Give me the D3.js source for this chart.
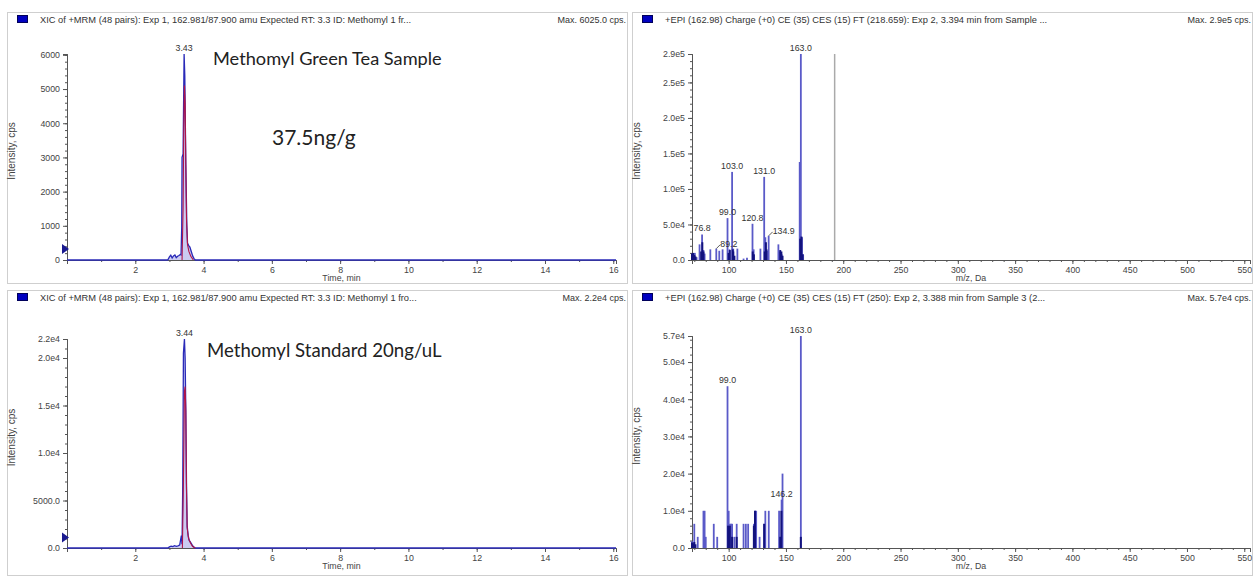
<!DOCTYPE html>
<html>
<head>
<meta charset="utf-8">
<script src="https://cdn.jsdelivr.net/npm/d3@7"></script>
<style>
  body { margin: 0; background: #fff; }
</style>
</head>
<body>
<svg id="chart"></svg>
<script>
var svgWidth = 1257;
var svgHeight = 576;

// XIC traces, time in min / intensity in cps
var sampleTime = [0, 2.95, 3.0, 3.04, 3.08, 3.12, 3.16, 3.2, 3.24, 3.28, 3.32, 3.34, 3.36, 3.37, 3.40, 3.43, 3.45, 3.48, 3.51, 3.53, 3.56, 3.60, 3.64, 3.68, 3.72, 3.76, 16.08];
var sampleBlue = [0, 0, 90, 140, 60, 120, 150, 70, 110, 130, 160, 150, 950, 3000, 3100, 6025, 5400, 2800, 1000, 500, 430, 380, 250, 120, 40, 0, 0];
var sampleRedTime = [3.37, 3.40, 3.42, 3.44, 3.46, 3.48, 3.50, 3.53, 3.57, 3.63, 3.7];
var sampleRed = [0, 1500, 3800, 5100, 4600, 2800, 1200, 450, 250, 100, 0];

var stdTime = [0, 2.95, 3.0, 3.05, 3.1, 3.15, 3.2, 3.25, 3.3, 3.33, 3.35, 3.37, 3.39, 3.41, 3.44, 3.46, 3.48, 3.50, 3.52, 3.55, 3.58, 3.62, 3.66, 3.70, 3.75, 16.08];
var stdBlue = [0, 0, 120, 200, 150, 250, 180, 220, 300, 900, 1300, 400, 6500, 20500, 22000, 20000, 14500, 6800, 2300, 1300, 800, 600, 350, 150, 0, 0];
var stdRedTime = [3.38, 3.41, 3.44, 3.46, 3.48, 3.50, 3.52, 3.56, 3.62, 3.68, 3.76];
var stdRed = [0, 7000, 16500, 17000, 14500, 6200, 2100, 1000, 500, 150, 0];

// EPI spectra, m/z / intensity in cps
var sampleMz = [68.5, 69.5, 70.5, 72, 74.6, 76.8, 78, 79, 84, 89.2, 91.8, 94.7, 99.0, 100.7, 103.0, 104, 107.6, 113, 116, 120.8, 121.8, 127.7, 131.0, 132, 133.4, 134.9, 143.4, 144.8, 146.3, 162, 163.0, 164, 165];
var sampleInt = [8000, 6000, 10000, 4000, 22000, 36000, 14000, 9000, 15000, 16000, 13000, 15000, 59000, 15000, 124000, 16000, 16000, 2000, 3000, 51000, 15000, 16000, 117000, 32000, 13000, 34000, 22000, 12000, 8000, 138000, 290000, 32000, 8000];
var sampleDarkMz = [68, 69, 70, 71, 76, 77, 78, 100, 101, 103.5, 104, 105, 121, 122, 131.5, 132.5, 133, 145, 146, 147, 162.5, 163.5, 164.5];
var sampleDarkInt = [9000, 10000, 7000, 5000, 12000, 25000, 12000, 10000, 14000, 15000, 12000, 6000, 12000, 8000, 12000, 25000, 15000, 14000, 12000, 6000, 30000, 33000, 8000];

var stdMz = [68, 69, 70, 73, 78, 79, 80, 87, 90, 99.0, 100, 101, 102, 103, 105, 107, 113, 115, 117, 122, 123, 124, 127, 131, 132, 135, 144, 145, 146.2, 147, 163.0];
var stdInt = [1800, 1500, 6500, 3000, 10000, 10000, 3000, 6500, 3000, 43500, 10000, 6500, 6500, 6500, 3000, 6500, 6500, 6500, 6500, 6500, 10000, 10000, 3000, 6500, 10000, 10000, 10000, 3000, 13000, 20000, 57000];
var stdDarkMz = [68, 69, 70, 71, 99.5, 101, 103, 107, 122, 123, 131, 145, 146, 163];
var stdDarkInt = [1500, 1200, 1600, 1000, 6000, 6000, 3000, 3000, 6000, 10000, 6500, 3000, 10000, 3000];

// precursor marker in the sample spectrum
var precursorMz = [192.5];

// peak labels
var sampleXicLabel = [3.43];
var stdXicLabel = [3.44];
var sampleLabelMz = [163.0, 103.0, 131.0, 99.0, 120.8, 76.8, 89.2, 134.9];
var stdLabelMz = [163.0, 99.0, 146.2];
var leaderLabels = [89.2, 134.9];

// axis ticks
var timeTicks = [2, 4, 6, 8, 10, 12, 14, 16];
var mzTicks = [100, 150, 200, 250, 300, 350, 400, 450, 500, 550];
var sampleXicTicks = [0, 1000, 2000, 3000, 4000, 5000, 6000];
var sampleXicTickLabels = ["0", "1000", "2000", "3000", "4000", "5000", "6000"];
var stdXicTicks = [0, 5000, 10000, 15000, 20000, 22000];
var stdXicTickLabels = ["0.0", "5000.0", "1.0e4", "1.5e4", "2.0e4", "2.2e4"];
var sampleMsTicks = [0, 50000, 100000, 150000, 200000, 250000, 290000];
var sampleMsTickLabels = ["0.0", "5.0e4", "1.0e5", "1.5e5", "2.0e5", "2.5e5", "2.9e5"];
var stdMsTicks = [0, 10000, 20000, 30000, 40000, 50000, 57000];
var stdMsTickLabels = ["0.0", "1.0e4", "2.0e4", "3.0e4", "4.0e4", "5.0e4", "5.7e4"];

var svg = d3.select("#chart")
  .attr("width", svgWidth)
  .attr("height", svgHeight)
  .style("font-family", "'Liberation Sans', Arial, sans-serif");

var blue = "#2a2ab8";
var red = "#b01448";

function drawFrame(x0, y0, x1, y1, header, maxText) {
  var g = svg.append("g");
  g.append("rect")
    .attr("x", x0 + 0.5).attr("y", y0 + 0.5)
    .attr("width", x1 - x0).attr("height", y1 - y0)
    .attr("fill", "#fff").attr("stroke", "#cfcfcf");
  g.append("rect")
    .attr("x", x0 + 10.5).attr("y", y0 + 3.5)
    .attr("width", 10).attr("height", 7)
    .attr("fill", "#0000c0").attr("stroke", "#00005a");
  g.append("text")
    .attr("x", x0 + 33).attr("y", y0 + 11)
    .attr("font-size", "9.3px").attr("fill", "#333")
    .text(header);
  g.append("text")
    .attr("x", x1 - 1).attr("y", y0 + 11)
    .attr("text-anchor", "end")
    .attr("font-size", "9px").attr("fill", "#333")
    .text(maxText);
}

function drawAxes(x, y, xTicks, xMinorStep, yTicks, yLabels, yMinorStep, xTitle, titleX) {
  var g = svg.append("g").attr("class", "axes");
  var y0 = y.range()[0];
  var x0 = x.range()[0];

  var minorX = d3.range(Math.ceil(x.domain()[0] / xMinorStep) * xMinorStep, x.domain()[1], xMinorStep);
  g.append("g")
    .attr("transform", `translate(0, ${y0})`)
    .call(d3.axisBottom(x).tickValues(minorX).tickSize(2).tickFormat(""));
  g.append("g")
    .attr("transform", `translate(0, ${y0})`)
    .call(d3.axisBottom(x).tickValues(xTicks).tickSize(4).tickPadding(3));

  var minorY = d3.range(0, y.domain()[1], yMinorStep);
  g.append("g")
    .attr("transform", `translate(${x0}, 0)`)
    .call(d3.axisLeft(y).tickValues(minorY).tickSize(2).tickFormat(""));
  g.append("g")
    .attr("transform", `translate(${x0}, 0)`)
    .call(d3.axisLeft(y).tickValues(yTicks).tickSize(4).tickPadding(3)
      .tickFormat(function(d, i) { return yLabels[i]; }));

  g.selectAll(".domain").attr("stroke", "#555");
  g.selectAll(".tick line").attr("stroke", "#555");
  g.selectAll(".tick text").attr("fill", "#444").attr("font-size", "8.8px")
    .attr("font-family", null);

  g.append("text")
    .attr("x", (x.range()[0] + x.range()[1]) / 2)
    .attr("y", y0 + 21)
    .attr("text-anchor", "middle")
    .attr("font-size", "8.8px").attr("fill", "#444")
    .text(xTitle);
  var ym = (y.range()[0] + y.range()[1]) / 2 - 6;
  g.append("text")
    .attr("transform", `translate(${titleX}, ${ym}) rotate(-90)`)
    .attr("text-anchor", "middle")
    .attr("font-size", "10px").attr("fill", "#444")
    .text("Intensity, cps");
}

function drawXic(x, y, time, blueVals, redTime, redVals, labelTime, markerLevel) {
  var line = d3.line()
    .x(function(d) { return x(d[0]); })
    .y(function(d) { return y(d[1]); });
  var area = d3.area()
    .x(function(d) { return x(d[0]); })
    .y0(y(0))
    .y1(function(d) { return y(d[1]); });
  svg.append("path")
    .datum(d3.zip(time, blueVals))
    .attr("d", area)
    .attr("fill", "#a8a8e8").attr("opacity", 0.6);
  svg.append("path")
    .datum(d3.zip(time, blueVals))
    .attr("d", line)
    .attr("fill", "none").attr("stroke", blue).attr("stroke-width", 1.3);
  svg.append("path")
    .datum(d3.zip(redTime, redVals))
    .attr("d", line)
    .attr("fill", "none").attr("stroke", red).attr("stroke-width", 1.1);

  var peak = d3.max(blueVals);
  svg.append("text")
    .attr("x", x(labelTime[0])).attr("y", y(peak) - 3)
    .attr("text-anchor", "middle")
    .attr("font-size", "8.8px").attr("fill", "#333")
    .text(labelTime[0].toFixed(2));

  var ym = y(markerLevel);
  var xa = x.range()[0];
  svg.append("path")
    .attr("d", `M${xa - 5},${ym - 5} L${xa + 2},${ym} L${xa - 5},${ym + 5} Z`)
    .attr("fill", "#1a1a90");
}

function drawSpectrum(x, y, mz, vals, darkMz, darkVals, labelMz, precursor) {
  var g = svg.append("g");
  if (precursor) {
    g.selectAll(".prec").data(precursor).enter().append("line")
      .attr("x1", d => x(d)).attr("x2", d => x(d))
      .attr("y1", y(0)).attr("y2", y(y.domain()[1]))
      .attr("stroke", "#aaa").attr("stroke-width", 1.5);
  }
  var data = d3.zip(mz, vals);
  g.selectAll(".bar").data(data).enter().append("line")
    .attr("x1", d => x(d[0])).attr("x2", d => x(d[0]))
    .attr("y1", y(0)).attr("y2", d => y(d[1]))
    .attr("stroke", "#5a5ac8").attr("stroke-width", 1.8);
  g.selectAll(".dark").data(d3.zip(darkMz, darkVals)).enter().append("line")
    .attr("x1", d => x(d[0])).attr("x2", d => x(d[0]))
    .attr("y1", y(0)).attr("y2", d => y(d[1]))
    .attr("stroke", "#13137e").attr("stroke-width", 2);

  labelMz.forEach(function(m) {
    var v = vals[mz.indexOf(m)];
    var bx = x(m), by = y(v);
    if (leaderLabels.indexOf(m) >= 0) {
      g.append("line")
        .attr("x1", bx).attr("y1", by)
        .attr("x2", bx + 4).attr("y2", by - 4)
        .attr("stroke", "#333").attr("stroke-width", 0.8);
      g.append("text")
        .attr("x", bx + 4).attr("y", by - 2)
        .attr("font-size", "8.8px").attr("fill", "#333")
        .text(m.toFixed(1));
    } else {
      g.append("text")
        .attr("x", bx).attr("y", by - 3)
        .attr("text-anchor", "middle")
        .attr("font-size", "8.8px").attr("fill", "#333")
        .text(m.toFixed(1));
    }
  });
}

// frames
drawFrame(7, 12, 627, 283, "XIC of +MRM (48 pairs): Exp 1, 162.981/87.900 amu Expected RT: 3.3 ID: Methomyl 1 fr...", "Max. 6025.0 cps.");
drawFrame(632, 12, 1252, 283, "+EPI (162.98) Charge (+0) CE (35) CES (15) FT (218.659): Exp 2, 3.394 min from Sample ...", "Max. 2.9e5 cps.");
drawFrame(7, 290, 627, 575, "XIC of +MRM (48 pairs): Exp 1, 162.981/87.900 amu Expected RT: 3.3 ID: Methomyl 1 fro...", "Max. 2.2e4 cps.");
drawFrame(632, 290, 1252, 575, "+EPI (162.98) Charge (+0) CE (35) CES (15) FT (250): Exp 2, 3.388 min from Sample 3 (2...", "Max. 5.7e4 cps.");

// scales
var xTimeTop = d3.scaleLinear().domain([0, 16.08]).range([67, 616]);
var xTimeBot = d3.scaleLinear().domain([0, 16.08]).range([67, 616]);
var xMzTop = d3.scaleLinear().domain([68, 555]).range([692, 1250]);
var xMzBot = d3.scaleLinear().domain([68, 555]).range([692, 1250]);

var ySampleXic = d3.scaleLinear().domain([0, 6025]).range([260, 54]);
var ySampleMs = d3.scaleLinear().domain([0, 290000]).range([260, 54]);
var yStdXic = d3.scaleLinear().domain([0, 22000]).range([548, 339]);
var yStdMs = d3.scaleLinear().domain([0, 57000]).range([548, 336]);

drawAxes(xTimeTop, ySampleXic, timeTicks, 1, sampleXicTicks, sampleXicTickLabels, 200, "Time, min", 15);
drawAxes(xMzTop, ySampleMs, mzTicks, 10, sampleMsTicks, sampleMsTickLabels, 10000, "m/z, Da", 640);
drawAxes(xTimeBot, yStdXic, timeTicks, 1, stdXicTicks, stdXicTickLabels, 1000, "Time, min", 15);
drawAxes(xMzBot, yStdMs, mzTicks, 10, stdMsTicks, stdMsTickLabels, 2000, "m/z, Da", 640);

drawXic(xTimeTop, ySampleXic, sampleTime, sampleBlue, sampleRedTime, sampleRed, sampleXicLabel, 320);
drawXic(xTimeBot, yStdXic, stdTime, stdBlue, stdRedTime, stdRed, stdXicLabel, 1100);

drawSpectrum(xMzTop, ySampleMs, sampleMz, sampleInt, sampleDarkMz, sampleDarkInt, sampleLabelMz, precursorMz);
drawSpectrum(xMzBot, yStdMs, stdMz, stdInt, stdDarkMz, stdDarkInt, stdLabelMz, null);

// slide annotations
svg.append("text")
  .attr("x", 213).attr("y", 65)
  .style("font-family", "Lato, 'Open Sans', sans-serif")
  .attr("font-size", "18.2px").attr("fill", "#222")
  .text("Methomyl Green Tea Sample");
svg.append("text")
  .attr("x", 272).attr("y", 145)
  .style("font-family", "Lato, 'Open Sans', sans-serif")
  .attr("font-size", "21px").attr("fill", "#222")
  .text("37.5ng/g");
svg.append("text")
  .attr("x", 207).attr("y", 357)
  .style("font-family", "Lato, 'Open Sans', sans-serif")
  .attr("font-size", "18.6px").attr("fill", "#222")
  .text("Methomyl Standard 20ng/uL");
</script>
</body>
</html>
